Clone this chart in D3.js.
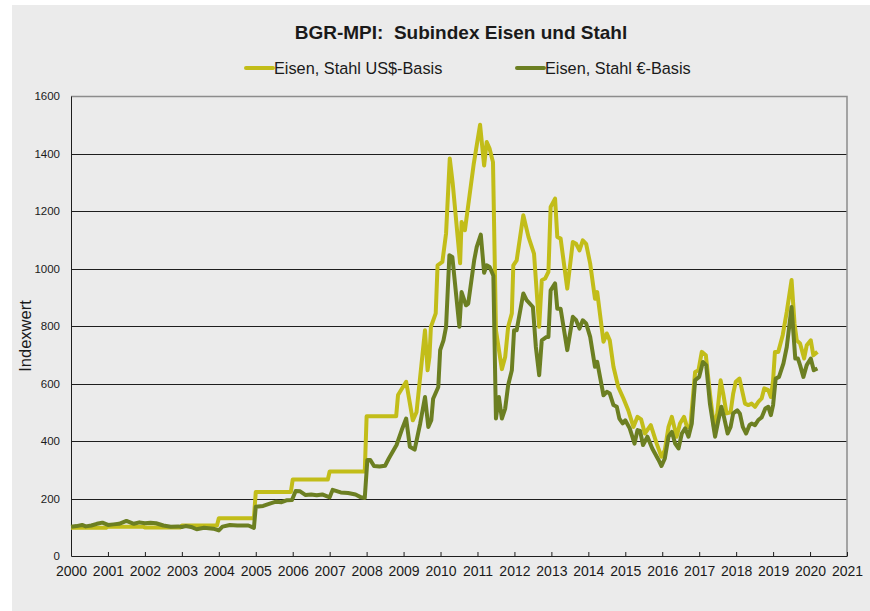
<!DOCTYPE html>
<html>
<head>
<meta charset="utf-8">
<script src="https://cdn.jsdelivr.net/npm/d3@7"></script>
<style>
  body { margin: 0; background: #fff; }
  svg text { font-family: "Liberation Sans", Arial, sans-serif; fill: #1a1a1a; }
</style>
</head>
<body>
<svg id="chart"></svg>
<script>
// Werte: [Jahr (dezimal), Indexwert]
const usdBasis = [
  [2000.0, 98], [2000.95, 98], [2001.0, 102], [2001.95, 102], [2002.0, 99], [2002.95, 99],
  [2003.0, 106], [2003.95, 106], [2004.0, 131], [2004.95, 131], [2005.0, 223], [2005.95, 223],
  [2006.0, 266], [2006.95, 266], [2007.0, 294], [2007.95, 294], [2008.0, 486], [2008.8, 486],
  [2008.85, 560], [2009.07, 606], [2009.25, 472], [2009.35, 500], [2009.58, 785], [2009.65, 646],
  [2009.7, 692], [2009.74, 797], [2009.87, 844], [2009.92, 1011], [2010.05, 1023], [2010.15, 1122],
  [2010.25, 1383], [2010.33, 1296], [2010.53, 1018], [2010.57, 1162], [2010.66, 1133], [2010.9, 1365],
  [2011.07, 1500], [2011.18, 1358], [2011.25, 1440], [2011.33, 1416], [2011.42, 1370], [2011.5, 785],
  [2011.66, 650], [2011.75, 692], [2011.83, 797], [2011.93, 844], [2011.97, 1011], [2012.06, 1028],
  [2012.24, 1185], [2012.38, 1110], [2012.53, 1052], [2012.67, 797], [2012.74, 959], [2012.83, 965],
  [2012.92, 988], [2012.98, 1214], [2013.1, 1243], [2013.16, 1110], [2013.25, 1104], [2013.43, 930],
  [2013.58, 1092], [2013.67, 1086], [2013.76, 1063], [2013.85, 1098], [2013.94, 1086], [2014.05, 1017],
  [2014.18, 895], [2014.24, 918], [2014.41, 745], [2014.5, 774], [2014.58, 750], [2014.68, 658],
  [2014.81, 588], [2014.95, 548], [2015.08, 507], [2015.22, 449], [2015.33, 484], [2015.43, 475],
  [2015.53, 426], [2015.69, 455], [2015.85, 391], [2015.98, 345], [2016.07, 368], [2016.17, 449],
  [2016.26, 484], [2016.39, 415], [2016.48, 461], [2016.59, 484], [2016.67, 449], [2016.76, 449],
  [2016.89, 640], [2016.98, 646], [2017.07, 710], [2017.18, 698], [2017.29, 565], [2017.4, 449],
  [2017.49, 496], [2017.58, 611], [2017.65, 565], [2017.74, 496], [2017.85, 500], [2017.92, 565],
  [2017.99, 606], [2018.09, 617], [2018.18, 565], [2018.24, 530], [2018.33, 525], [2018.42, 530],
  [2018.51, 519], [2018.6, 536], [2018.69, 548], [2018.76, 583], [2018.87, 577], [2018.94, 553],
  [2019.0, 611], [2019.05, 710], [2019.14, 710], [2019.26, 768], [2019.37, 849], [2019.5, 960],
  [2019.58, 808], [2019.64, 750], [2019.73, 739], [2019.84, 687], [2019.91, 733], [2020.02, 750],
  [2020.09, 698], [2020.2, 710]
]

const euroBasis = [
  [2000.0, 102], [2000.15, 104], [2000.3, 108], [2000.4, 103], [2000.55, 106], [2000.7, 112],
  [2000.85, 116], [2001.0, 108], [2001.15, 110], [2001.3, 112], [2001.5, 122], [2001.7, 112],
  [2001.85, 117], [2002.0, 114], [2002.15, 116], [2002.3, 114], [2002.5, 106], [2002.7, 102],
  [2002.9, 103], [2003.0, 101], [2003.1, 104], [2003.25, 101], [2003.4, 93], [2003.6, 98],
  [2003.85, 95], [2004.0, 89], [2004.1, 102], [2004.3, 108], [2004.5, 106], [2004.8, 106],
  [2004.95, 98], [2005.0, 171], [2005.2, 174], [2005.4, 183], [2005.55, 189], [2005.7, 187],
  [2005.85, 194], [2005.98, 195], [2006.08, 226], [2006.2, 225], [2006.35, 212], [2006.5, 214],
  [2006.65, 211], [2006.8, 214], [2007.0, 204], [2007.08, 230], [2007.3, 221], [2007.5, 219],
  [2007.7, 214], [2007.85, 204], [2007.95, 202], [2008.02, 334], [2008.1, 334], [2008.2, 313],
  [2008.35, 311], [2008.5, 314], [2008.6, 339], [2008.81, 386], [2008.95, 438], [2009.07, 478],
  [2009.17, 380], [2009.3, 370], [2009.45, 461], [2009.58, 553], [2009.67, 449], [2009.75, 472],
  [2009.8, 547], [2009.94, 588], [2009.99, 716], [2010.08, 750], [2010.15, 797], [2010.24, 1046],
  [2010.32, 1040], [2010.51, 797], [2010.57, 918], [2010.69, 872], [2010.75, 878], [2010.91, 1028],
  [2010.98, 1075], [2011.09, 1118], [2011.18, 985], [2011.25, 1011], [2011.33, 1005], [2011.43, 975],
  [2011.5, 478], [2011.58, 553], [2011.66, 478], [2011.75, 513], [2011.83, 594], [2011.93, 646],
  [2011.99, 785], [2012.06, 785], [2012.24, 913], [2012.33, 890], [2012.5, 866], [2012.58, 727],
  [2012.67, 629], [2012.74, 750], [2012.87, 762], [2012.92, 762], [2012.98, 924], [2013.1, 948],
  [2013.16, 860], [2013.25, 860], [2013.43, 716], [2013.58, 832], [2013.67, 820], [2013.76, 791],
  [2013.85, 820], [2013.94, 809], [2014.05, 762], [2014.18, 658], [2014.24, 675], [2014.41, 559],
  [2014.5, 571], [2014.58, 565], [2014.68, 525], [2014.77, 519], [2014.84, 478], [2014.93, 461],
  [2015.0, 472], [2015.12, 444], [2015.25, 391], [2015.33, 438], [2015.4, 435], [2015.48, 386],
  [2015.6, 415], [2015.73, 374], [2015.9, 334], [2015.98, 313], [2016.07, 339], [2016.17, 415],
  [2016.26, 432], [2016.35, 391], [2016.44, 374], [2016.53, 426], [2016.62, 444], [2016.71, 415],
  [2016.8, 461], [2016.89, 611], [2017.0, 623], [2017.1, 675], [2017.19, 664], [2017.29, 530],
  [2017.43, 415], [2017.52, 473], [2017.6, 519], [2017.67, 484], [2017.77, 426], [2017.85, 449],
  [2017.92, 496], [2018.03, 507], [2018.1, 496], [2018.18, 449], [2018.27, 426], [2018.36, 455],
  [2018.42, 461], [2018.51, 455], [2018.6, 473], [2018.69, 482], [2018.79, 513], [2018.87, 519],
  [2018.94, 490], [2019.0, 525], [2019.07, 617], [2019.16, 623], [2019.28, 670], [2019.37, 727],
  [2019.5, 866], [2019.6, 687], [2019.67, 687], [2019.73, 664], [2019.82, 623], [2019.91, 664],
  [2020.02, 687], [2020.1, 646], [2020.2, 652]
]

const years = d3.range(2000, 2022)
const yTicks = [0, 200, 400, 600, 800, 1000, 1200, 1400, 1600]
const seriesNames = ["Eisen, Stahl US$-Basis", "Eisen, Stahl €-Basis"]
const seriesColors = ["#c2bd19", "#6c7f22"]

const width = 870
const height = 611
const plotLeft = 71, plotRight = 847, plotTop = 96, plotBottom = 556

const svg = d3.select("#chart")
  .attr("width", width)
  .attr("height", height)

// grauer Hintergrund
svg.append("rect")
  .attr("x", 12).attr("y", 5)
  .attr("width", width - 12).attr("height", height - 5)
  .attr("fill", "#ebebeb")

const x = d3.scaleLinear().domain([2000, 2021]).range([plotLeft, plotRight])
const y = d3.scaleLinear().domain([0, 1600]).range([plotBottom, plotTop])

// Gitterlinien
svg.append("g")
  .selectAll("line")
  .data(yTicks.filter(d => d > 0 && d < 1600))
  .join("line")
  .attr("x1", plotLeft).attr("x2", plotRight)
  .attr("y1", d => Math.round(y(d)) + 0.5).attr("y2", d => Math.round(y(d)) + 0.5)
  .attr("stroke", "#1e1e1e")
  .attr("stroke-width", 1)

// Rahmen oben und rechts
svg.append("path")
  .attr("d", `M${plotLeft},${plotTop + 0.5}H${plotRight}V${plotBottom}`)
  .attr("fill", "none")
  .attr("stroke", "#8c8c8c")
  .attr("stroke-width", 1.5)

// y-Achse
const yAxis = svg.append("g")
  .attr("transform", `translate(${plotLeft},0)`)
  .call(d3.axisLeft(y).tickValues(yTicks).tickFormat(d3.format("d")).tickSize(0).tickPadding(11))
yAxis.select(".domain").attr("stroke", "#1e1e1e")
yAxis.selectAll("text").style("font-size", "11.5px")

// x-Achse
const xAxis = svg.append("g")
  .attr("transform", `translate(0,${plotBottom})`)
  .call(d3.axisBottom(x).tickValues(years).tickFormat(d3.format("d")).tickSizeInner(-4).tickSizeOuter(0).tickPadding(10))
xAxis.select(".domain").attr("stroke", "#1e1e1e")
xAxis.selectAll(".tick line").attr("stroke", "#1e1e1e")
xAxis.selectAll("text").style("font-size", "14px")

const line = d3.line()
  .x(d => x(d[0]))
  .y(d => y(d[1]))

svg.append("path")
  .datum(usdBasis)
  .attr("fill", "none")
  .attr("stroke", seriesColors[0])
  .attr("stroke-width", 4)
  .attr("stroke-linejoin", "round")
  .attr("d", line)

svg.append("path")
  .datum(euroBasis)
  .attr("fill", "none")
  .attr("stroke", seriesColors[1])
  .attr("stroke-width", 4)
  .attr("stroke-linejoin", "round")
  .attr("d", line)

// Titel
svg.append("text")
  .attr("x", 461).attr("y", 39)
  .attr("text-anchor", "middle")
  .style("font-size", "19px")
  .style("font-weight", "bold")
  .text("BGR-MPI:\u00a0\u00a0Subindex Eisen und Stahl")

// Legende
const legendX = [246, 517]
const legend = svg.append("g")
seriesNames.forEach((name, i) => {
  legend.append("line")
    .attr("x1", legendX[i]).attr("x2", legendX[i] + 27)
    .attr("y1", 68).attr("y2", 68)
    .attr("stroke", seriesColors[i])
    .attr("stroke-width", 4)
    .attr("stroke-linecap", "round")
  legend.append("text")
    .attr("x", legendX[i] + 28).attr("y", 74)
    .style("font-size", "16.3px")
    .text(name)
})

// y-Titel
svg.append("text")
  .attr("transform", "translate(31,336) rotate(-90)")
  .attr("text-anchor", "middle")
  .style("font-size", "16.5px")
  .text("Indexwert")
</script>
</body>
</html>
